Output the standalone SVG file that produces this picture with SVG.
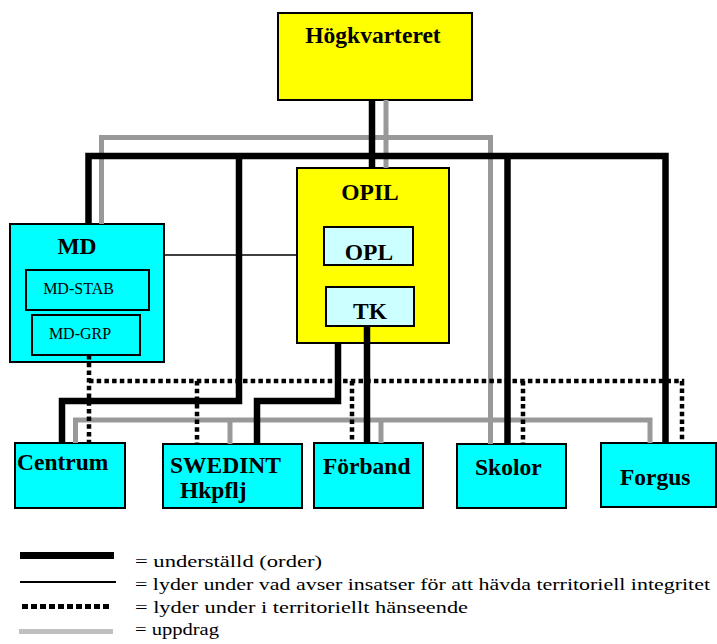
<svg xmlns="http://www.w3.org/2000/svg" width="717" height="644" viewBox="0 0 717 644" font-family="'Liberation Serif', 'Times New Roman', serif">
<style>
.box{stroke:#000;stroke-width:2}
.yel{fill:#ffff00}
.cy{fill:#00ffff}
.lc{fill:#ccffff}
.lbl{font-weight:bold;font-size:23.5px;fill:#000}
.sm{font-size:16px;fill:#000;text-anchor:middle}
.mid{text-anchor:middle}
.order{stroke:#000;stroke-width:6.5;fill:none}
.task{stroke:#999;stroke-width:5;fill:none}
.terr{stroke:#000;stroke-width:4.5;fill:none;stroke-dasharray:4.5 3.2}
.integ{stroke:#000;stroke-width:1.5;fill:none}
.leg{font-size:17px;fill:#000}
</style>
<rect width="717" height="644" fill="#fff"/>
<g id="hq"><rect class="box yel" x="278" y="13" width="194" height="87"/><text class="lbl mid" x="373" y="43">Högkvarteret</text></g>
<g id="opil"><rect class="box yel" x="297" y="168" width="152" height="175"/><text class="lbl mid" x="370" y="200">OPIL</text></g>
<g id="opl"><rect class="box lc" x="324" y="227" width="89" height="38"/><text class="lbl mid" x="369" y="260">OPL</text></g>
<g id="tk"><rect class="box lc" x="326" y="287" width="88" height="39"/><text class="lbl mid" x="370" y="319">TK</text></g>
<g id="md"><rect class="box cy" x="10" y="224" width="154" height="138"/><text class="lbl mid" x="77" y="254">MD</text></g>
<g id="md-stab"><rect class="box cy" x="26" y="270" width="123" height="40"/><text class="sm" x="78.5" y="294">MD-STAB</text></g>
<g id="md-grp"><rect class="box cy" x="32" y="315" width="108" height="40"/><text class="sm" x="80" y="339">MD-GRP</text></g>
<g id="centrum"><rect class="box cy" x="15" y="443" width="110" height="65"/><text class="lbl" x="17" y="470">Centrum</text></g>
<g id="swedint"><rect class="box cy" x="163" y="444" width="139" height="64"/><text class="lbl" x="170" y="473">SWEDINT</text><text class="lbl" x="180" y="498">Hkpflj</text></g>
<g id="forband"><rect class="box cy" x="314" y="443" width="109" height="65"/><text class="lbl" x="323" y="474">Förband</text></g>
<g id="skolor"><rect class="box cy" x="457" y="444" width="109" height="64"/><text class="lbl" x="475" y="475">Skolor</text></g>
<g id="forgus"><rect class="box cy" x="601" y="443" width="115" height="64"/><text class="lbl" x="620" y="485">Forgus</text></g>
<g id="connectors">
<path class="task" d="M386,100V168"/>
<path class="task" d="M101.5,224V137.5H490.5V444"/>
<path class="task" d="M75.5,443V420H650V443"/>
<path class="task" d="M230,420V444"/>
<path class="task" d="M381,420V443"/>
<path class="order" d="M372,100V168"/>
<path class="order" d="M88.5,224V156H665.5V443"/>
<path class="order" d="M507.5,156V444"/>
<path class="order" d="M239,156V401H62V443"/>
<path class="order" d="M338,343V401H257V444"/>
<path class="order" d="M367,326V443"/>
<path class="integ" d="M164,255H297"/>
<path class="terr" d="M89,355V443"/>
<path class="terr" d="M89,381H682V443"/>
<path class="terr" d="M197,381V444"/>
<path class="terr" d="M352,381V443"/>
<path class="terr" d="M523,381V444"/>
</g>
<g id="legend">
<path d="M20,555.5H114" stroke="#000" stroke-width="7"/>
<path d="M20,582H116" stroke="#000" stroke-width="2"/>
<path d="M22,606.5H110" stroke="#000" stroke-width="5" stroke-dasharray="6 3"/>
<path d="M19,631.5H113" stroke="#c0c0c0" stroke-width="5"/>
<text class="leg" x="135" y="567" textLength="187" lengthAdjust="spacingAndGlyphs">= underställd (order)</text>
<text class="leg" x="135" y="590" textLength="575" lengthAdjust="spacingAndGlyphs">= lyder under vad avser insatser för att hävda territoriell integritet</text>
<text class="leg" x="135" y="613" textLength="333" lengthAdjust="spacingAndGlyphs">= lyder under i territoriellt hänseende</text>
<text class="leg" x="135" y="635" textLength="84" lengthAdjust="spacingAndGlyphs">= uppdrag</text>
</g>
</svg>
